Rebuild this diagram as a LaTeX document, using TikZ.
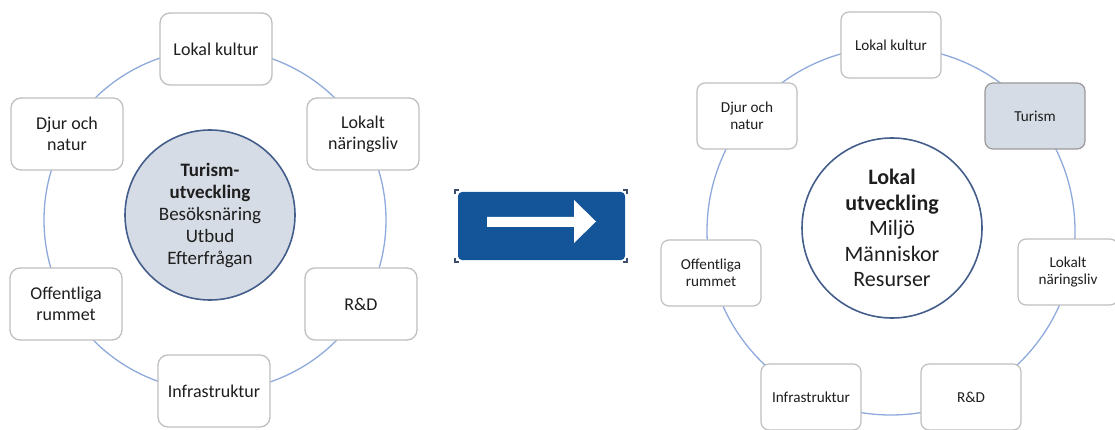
\documentclass[tikz,border=0pt]{standalone}
\usepackage{fontspec}
\setmainfont{Carlito}
\definecolor{ringblue}{RGB}{142,169,219}
\definecolor{boxgray}{RGB}{191,191,191}
\definecolor{fillblue}{RGB}{214,220,229}
\definecolor{darkring}{RGB}{68,94,140}
\definecolor{arrowblue}{RGB}{20,84,152}
\definecolor{txt}{RGB}{30,30,30}
\definecolor{handle}{RGB}{60,80,110}
\begin{document}
\begin{tikzpicture}[x=1pt,y=-1pt,
  ring/.style={draw=ringblue, line width=1.3pt},
  lbox/.style={draw=boxgray, line width=1.3pt, rounded corners=10pt, fill=white,
    minimum width=112pt, minimum height=72pt, align=center, inner sep=2pt,
    text=txt, font=\fontsize{18}{21}\selectfont},
  rbox/.style={draw=boxgray, line width=1.2pt, rounded corners=8pt, fill=white,
    minimum width=100pt, minimum height=66pt, align=center, inner sep=2pt,
    text=txt, font=\fontsize{15.2}{17.5}\selectfont},
  hub/.style={circle, draw=darkring, line width=1.6pt, inner sep=0pt, align=center, text=txt}
]
\useasboundingbox (0,0) rectangle (1115,430);

% ---------- left diagram ----------
\draw[ring] (215,220) circle[radius=171pt];
\node[hub, fill=fillblue, minimum size=170pt, font=\fontsize{19}{22}\selectfont] (lhub) at (210,215)
  {\textbf{Turism-}\\\textbf{utveckling}\\Besöksnäring\\Utbud\\Efterfrågan};
\node[lbox] (lk) at (216,49) {Lokal kultur};
\node[lbox] (ld) at (67,134) {Djur och\\natur};
\node[lbox] (ln) at (363,134) {Lokalt\\näringsliv};
\node[lbox] (lo) at (66,304) {Offentliga\\rummet};
\node[lbox] (lr) at (361,304) {R\&D};
\node[lbox] (li) at (214,391) {Infrastruktur};

% ---------- arrow ----------
\node[fill=arrowblue, rounded corners=4pt, minimum width=167pt, minimum height=68pt, inner sep=0pt] (arr) at (541.5,226) {};
\fill[white] (487,217) -- (574,217) -- (574,200) -- (596,221.5) -- (574,243) -- (574,227) -- (487,227) -- cycle;
\draw[handle, line width=1.2pt]
  (455,194) -- (455,190) -- (459,190)
  (623,190) -- (627,190) -- (627,194)
  (455,258) -- (455,262) -- (459,262)
  (623,262) -- (627,262) -- (627,258);

% ---------- right diagram ----------
\draw[ring] (891,231) circle[radius=184pt];
\node[hub, fill=white, minimum size=180pt, font=\fontsize{22}{25.5}\selectfont] (rhub) at (892,228)
  {\textbf{Lokal}\\\textbf{utveckling}\\Miljö\\Människor\\Resurser};
\node[rbox] (rk) at (891,45) {Lokal kultur};
\node[rbox] (rd) at (747,116) {Djur och\\natur};
\node[rbox, fill=fillblue, draw=boxgray!80!black] (rt) at (1035,116) {Turism};
\node[rbox] (ro) at (711,273) {Offentliga\\rummet};
\node[rbox] (rn) at (1068,272) {Lokalt\\näringsliv};
\node[rbox] (ri) at (811,397) {Infrastruktur};
\node[rbox] (rr) at (971,397) {R\&D};
\end{tikzpicture}
\end{document}
